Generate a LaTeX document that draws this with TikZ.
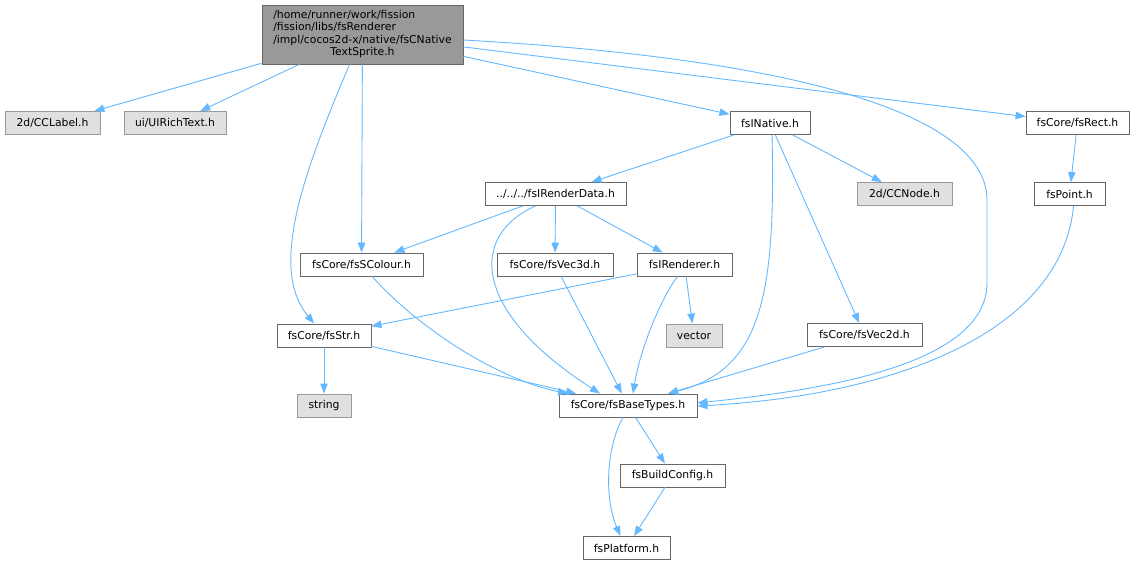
\documentclass[tikz,border=0pt]{standalone}
\usepackage{fontspec}
\setmainfont{DejaVu Sans}
\usepackage{tikz}
\usetikzlibrary{arrows.meta}

\definecolor{edgeblue}{HTML}{63B8FF}
\definecolor{boxline}{HTML}{666666}
\definecolor{sysline}{HTML}{999999}
\definecolor{sysfill}{HTML}{E0E0E0}
\definecolor{mainfill}{HTML}{999999}

\begin{document}
\begin{tikzpicture}[x=1pt,y=-1pt,>={Triangle[length=10pt,width=7.5pt]}]
    \tikzstyle{every node}=[draw=boxline,fill=white,line width=0.9pt,shape=rectangle,inner sep=0pt,minimum height=23pt,font=\fontsize{10.8}{12.4}\selectfont];
    \tikzstyle{sys}=[draw=sysline,fill=sysfill];
    \tikzstyle{dep}=[->,draw=edgeblue,line width=0.9pt];
    \useasboundingbox (0,0) rectangle (1137,564);

    \node at (362.5, 34.5) (main) [fill=mainfill,minimum width=201pt,minimum height=59pt]
      {\begin{tabular}{@{}l@{}}/home/runner/work/fission\\/fission/libs/fsRenderer\\/impl/cocos2d-x/native/fsCNative\\\multicolumn{1}{@{}c@{}}{TextSprite.h}\end{tabular}};
    \node at (52.5, 123)   (cclabel)  [sys,minimum width=95pt]  {2d/CCLabel.h};
    \node at (175, 123)    (richtext) [sys,minimum width=102pt] {ui/UIRichText.h};
    \node at (770, 123)    (native)   [minimum width=80pt]      {fsINative.h};
    \node at (1077.5, 123) (rect)     [minimum width=103pt]     {fsCore/fsRect.h};
    \node at (555.5, 194)  (rdata)    [minimum width=141pt]     {../../../fsIRenderData.h};
    \node at (904.5, 194)  (ccnode)   [sys,minimum width=95pt]  {2d/CCNode.h};
    \node at (1069.5, 194) (point)    [minimum width=71pt]      {fsPoint.h};
    \node at (361.5, 264.5) (colour)  [minimum width=123pt]     {fsCore/fsSColour.h};
    \node at (555, 264.5)  (vecthree) [minimum width=116pt]     {fsCore/fsVec3d.h};
    \node at (684.5, 264.5) (renderer) [minimum width=95pt]     {fsIRenderer.h};
    \node at (324, 335.5)  (str)      [minimum width=94pt]      {fsCore/fsStr.h};
    \node at (694, 335.5)  (vector)   [sys,minimum width=56pt]  {vector};
    \node at (864.5, 335)  (vectwo)   [minimum width=115pt]     {fsCore/fsVec2d.h};
    \node at (324, 405.5)  (string)   [sys,minimum width=54pt]  {string};
    \node at (628, 405.5)  (base)     [minimum width=138pt]     {fsCore/fsBaseTypes.h};
    \node at (672.5, 475.5) (build)   [minimum width=105pt]     {fsBuildConfig.h};
    \node at (626.5, 548)  (platform) [minimum width=87pt]      {fsPlatform.h};

    % from the sprite header
    \draw[dep] (main) -- (cclabel);
    \draw[dep] (main) -- (richtext);
    \draw[dep] (main) -- (native);
    \draw[dep] (main) -- (rect);
    \draw[dep] (main) -- (colour);
    \draw[dep] (main) .. controls (300,180) and (270,270) .. (str);
    \draw[dep] ([yshift=-5.5pt]main.east) .. controls (820,60) and (987,120) .. (987,200)
      -- (987,283) .. controls (987,370) and (800,392) .. ([yshift=2.5pt]base.east);

    % fsINative.h
    \draw[dep] (native) -- (rdata);
    \draw[dep] (native) -- (ccnode);
    \draw[dep] (native) -- (vectwo);
    \draw[dep] ([xshift=2pt]native.south) .. controls (776,300) and (760,370) .. ([xshift=40pt]base.north);

    % render data
    \draw[dep] (rdata) -- (colour);
    \draw[dep] (rdata) -- (vecthree);
    \draw[dep] (rdata) -- (renderer);
    \draw[dep] ([xshift=-20pt]rdata.south) .. controls (470,235) and (470,310) .. ([xshift=-28pt]base.north);

    \draw[dep] (colour) .. controls (420,330) and (500,380) .. (base);
    \draw[dep] (vecthree) -- (base);
    \draw[dep] (renderer) -- (str);
    \draw[dep] (renderer) -- (vector);
    \draw[dep] ([xshift=-7pt]renderer.south) .. controls (660,300) and (640,350) .. ([xshift=5pt]base.north);
    \draw[dep] (str) -- (string);
    \draw[dep] (str) -- (base);
    \draw[dep] (vectwo) -- (base);

    % rect and point
    \draw[dep] (rect) -- (point);
    \draw[dep] ([xshift=4pt]point.south) .. controls (1062,330) and (900,395) .. ([yshift=-0.5pt]base.east);

    % down to the platform
    \draw[dep] (base) -- (build);
    \draw[dep] ([xshift=-5pt]base.south) .. controls (605,450) and (605,500) .. ([xshift=-6pt]platform.north);
    \draw[dep] (build) -- (platform);
\end{tikzpicture}
\end{document}
